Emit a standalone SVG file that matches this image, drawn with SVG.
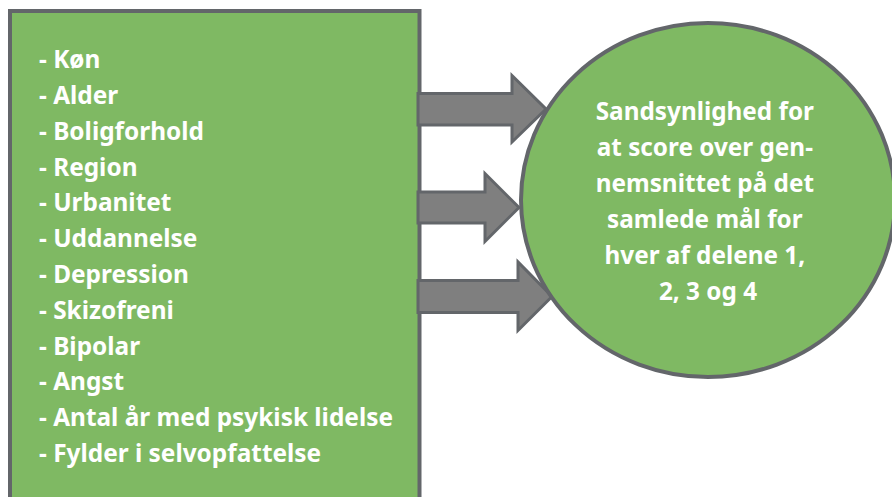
<svg xmlns="http://www.w3.org/2000/svg" width="892" height="497" viewBox="0 0 892 497">
<style>
.shape{fill:#7fb963;stroke:#63666a;stroke-width:4}
.arrow{fill:#7f7f7f;stroke:#63666a;stroke-width:3;stroke-linejoin:miter}
.t{font-family:"Noto Sans","Open Sans",sans-serif;font-weight:bold;fill:#ffffff}
.list{font-size:24.4px}
.circ{font-size:24.3px;text-anchor:middle}
</style>
<rect width="892" height="497" fill="#ffffff"/>
<g id="factors">
<rect class="shape" x="10" y="11" width="409.5" height="500"/>
<text class="t list" x="39">
<tspan x="39" y="68.3">- Køn</tspan>
<tspan x="39" y="104">- Alder</tspan>
<tspan x="39" y="139.8">- Boligforhold</tspan>
<tspan x="39" y="175.6">- Region</tspan>
<tspan x="39" y="211.4">- Urbanitet</tspan>
<tspan x="39" y="247.2">- Uddannelse</tspan>
<tspan x="39" y="283">- Depression</tspan>
<tspan x="39" y="318.8">- Skizofreni</tspan>
<tspan x="39" y="354.6">- Bipolar</tspan>
<tspan x="39" y="390.4">- Angst</tspan>
<tspan x="39" y="426.2">- Antal år med psykisk lidelse</tspan>
<tspan x="39" y="462">- Fylder i selvopfattelse</tspan>
</text>
</g>
<g id="connectors">
<polygon class="arrow" points="418,93.5 512,93.5 512,75.5 546,109 512,142 512,125 418,125"/>
<polygon class="arrow" points="418,192 485,192 485,173.5 519,207.5 485,241.5 485,223 418,223"/>
<polygon class="arrow" points="418,280.5 518,280.5 518,262 552,296.5 518,330.5 518,312.5 418,312.5"/>
</g>
<g id="outcome">
<ellipse class="shape" cx="708" cy="200" rx="187" ry="177"/>
<text class="t circ">
<tspan x="708" y="120">Sandsynlighed for</tspan>
<tspan x="708" y="155.9">at score over gen-</tspan>
<tspan x="708" y="191.8">nemsnittet på det</tspan>
<tspan x="708" y="227.7">samlede mål for</tspan>
<tspan x="708" y="263.6">hver af delene 1,</tspan>
<tspan x="708" y="299.5">2, 3 og 4</tspan>
</text>
</g>
</svg>
